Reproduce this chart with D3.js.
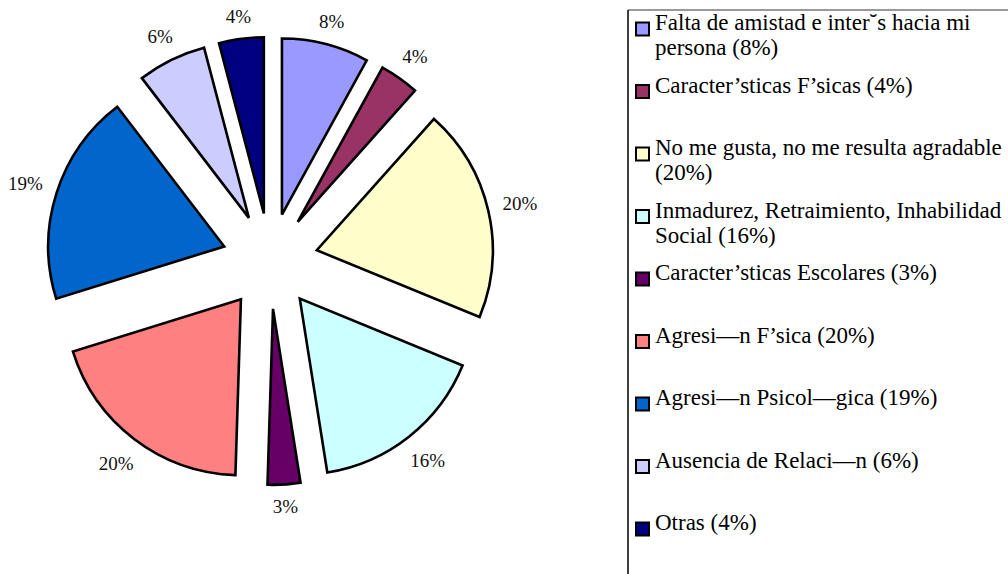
<!DOCTYPE html>
<html>
<head>
<meta charset="utf-8">
<script src="https://cdn.jsdelivr.net/npm/d3@7/dist/d3.min.js"></script>
<style>
  html, body { margin: 0; padding: 0; background: #fff; }
  svg { display: block; }
</style>
</head>
<body>
<svg id="chart" width="1008" height="574"></svg>
<script>
const categories = [
  "Falta de amistad e inter˘s hacia mi persona",
  "Caracter’sticas F’sicas",
  "No me gusta, no me resulta agradable",
  "Inmadurez, Retraimiento, Inhabilidad Social",
  "Caracter’sticas Escolares",
  "Agresi—n F’sica",
  "Agresi—n Psicol—gica",
  "Ausencia de Relaci—n",
  "Otras"
];
// shares (%); labels show them rounded
const values = [8.0, 3.6, 19.6, 16.3, 3.0, 19.7, 19.4, 6.3, 4.1];
const colors = ["#9999FF", "#993366", "#FFFFCC", "#CCFFFF", "#660066", "#FF8080", "#0066CC", "#CCCCFF", "#000080"];

const FONT = "'Liberation Serif', 'Times New Roman', Times, serif";
const svg = d3.select("#chart");
const W = 1008, H = 574;
const cx = 270, cy = 261, R = 176, explode = 48, labelGap = 190, labelH = 14;

const pie = d3.pie().sort(null).value(d => d).startAngle(0).endAngle(2 * Math.PI);
const arcs = pie(values);
const arc = d3.arc().innerRadius(0).outerRadius(R);

const g = svg.append("g").attr("transform", `translate(${cx},${cy})`);

const slice = g.selectAll("g.slice").data(arcs).enter().append("g")
  .attr("class", "slice")
  .attr("transform", d => {
    const m = (d.startAngle + d.endAngle) / 2;
    return `translate(${explode * Math.sin(m)},${-explode * Math.cos(m)})`;
  });

slice.append("path")
  .attr("d", arc)
  .attr("fill", (d, i) => colors[i])
  .attr("stroke", "#000")
  .attr("stroke-width", 2.6)
  .attr("stroke-linejoin", "miter");

slice.append("text")
  .attr("text-anchor", "middle")
  .attr("dy", "0.35em")
  .attr("font-family", FONT)
  .attr("font-size", 19)
  .attr("fill", "#111")
  .text(d => Math.round(d.data) + "%")
  .each(function(d) {
    const m = (d.startAngle + d.endAngle) / 2;
    const s = Math.sin(m), c = Math.cos(m);
    const w = this.getComputedTextLength();
    const r = labelGap + (w / 2) * Math.abs(s) + (labelH / 2) * Math.abs(c);
    d3.select(this).attr("transform", `translate(${r * s},${-r * c})`);
  });

// Legend
const lx = 628, ly = 10;
const legend = svg.append("g");
legend.append("line").attr("x1", lx).attr("y1", ly).attr("x2", W).attr("y2", ly)
  .attr("stroke", "#777").attr("stroke-width", 1.5);
legend.append("line").attr("x1", lx).attr("y1", ly).attr("x2", lx).attr("y2", H)
  .attr("stroke", "#000").attr("stroke-width", 1.5);

const step = 62.5, firstY = 30, lineH = 25, textX = 655, maxW = 348;
const fontSize = 23;

categories.forEach((c, i) => {
  const y = firstY + i * step;
  const full = `${c} (${Math.round(values[i])}%)`;
  legend.append("rect")
    .attr("x", 636).attr("y", y - 7.5).attr("width", 13).attr("height", 13)
    .attr("fill", colors[i]).attr("stroke", "#000").attr("stroke-width", 2);
  const t = legend.append("text")
    .attr("x", textX).attr("y", y)
    .attr("dy", "0.35em")
    .attr("font-family", FONT)
    .attr("font-size", fontSize)
    .attr("fill", "#000");
  // greedy word wrap
  const words = full.split(" ");
  let line = [];
  let ts = t.append("tspan").attr("x", textX).attr("dy", 0);
  words.forEach(w => {
    line.push(w);
    ts.text(line.join(" "));
    if (ts.node().getComputedTextLength() > maxW && line.length > 1) {
      line.pop();
      ts.text(line.join(" "));
      line = [w];
      ts = t.append("tspan").attr("x", textX).attr("dy", lineH).text(w);
    }
  });
});
</script>
</body>
</html>
